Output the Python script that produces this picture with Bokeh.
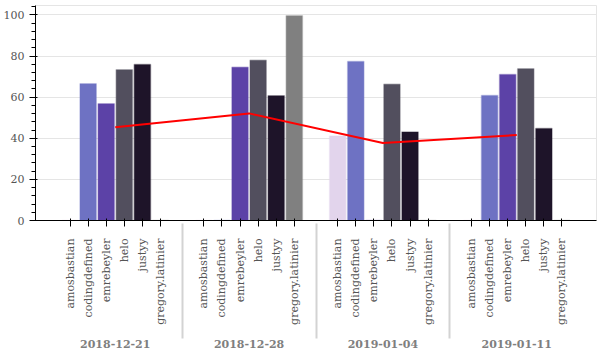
from bokeh.plotting import figure
from bokeh.models import FactorRange, ColumnDataSource, DataRange1d
from bokeh.embed import file_html
from bokeh.resources import INLINE
import math

dates = ["2018-12-21", "2018-12-28", "2019-01-04", "2019-01-11"]
names = ["amosbastian", "codingdefined", "emrebeyler", "helo", "justyy", "gregory.latinier"]
colors = ["#e2d4ec", "#6e72c3", "#5c42a7", "#524f5e", "#1e1429", "#808080"]

scores = {
    "2018-12-21": [0, 66.5, 56.8, 73.3, 75.9, 0],
    "2018-12-28": [0, 0, 74.6, 78.0, 60.7, 99.6],
    "2019-01-04": [41.1, 77.3, 0, 66.3, 43.0, 0],
    "2019-01-11": [0, 60.8, 71.0, 73.8, 44.7, 0],
}
averages = [45.4, 52.1, 37.7, 41.6]

x = [(d, n) for d in dates for n in names]
tops = [v for d in dates for v in scores[d]]
fills = [colors[i] for d in dates for i in range(len(names))]
src = ColumnDataSource(dict(x=x, top=tops, color=fills))

p = figure(x_range=FactorRange(*x, range_padding=0.1), y_range=DataRange1d(start=0),
           width=600, height=350, output_backend="svg", toolbar_location=None,
           min_border_right=4, min_border_top=5)

p.vbar(x="x", top="top", width=0.9, source=src, fill_color="color",
       line_color="color", line_alpha=0.35, line_width=1.5)
p.line(x=dates, y=averages, line_color="red", line_width=2)

font = "DejaVu Serif"
p.xaxis.major_label_orientation = math.pi / 2
p.xaxis.major_label_text_font = font
p.xaxis.major_label_text_font_size = "11px"
p.xaxis.major_label_standoff = 12
p.xaxis.group_text_font = font
p.xaxis.group_text_font_size = "11px"
p.xaxis.group_text_color = "#7f7f7f"
p.yaxis.major_label_text_font = font
p.yaxis.major_label_text_font_size = "11px"
p.xaxis.major_label_text_color = "#555555"
p.yaxis.major_label_text_color = "#555555"
p.xgrid.grid_line_color = None
p.xaxis.axis_line_color = "black"

open("out.html", "w").write(file_html(p, INLINE))
